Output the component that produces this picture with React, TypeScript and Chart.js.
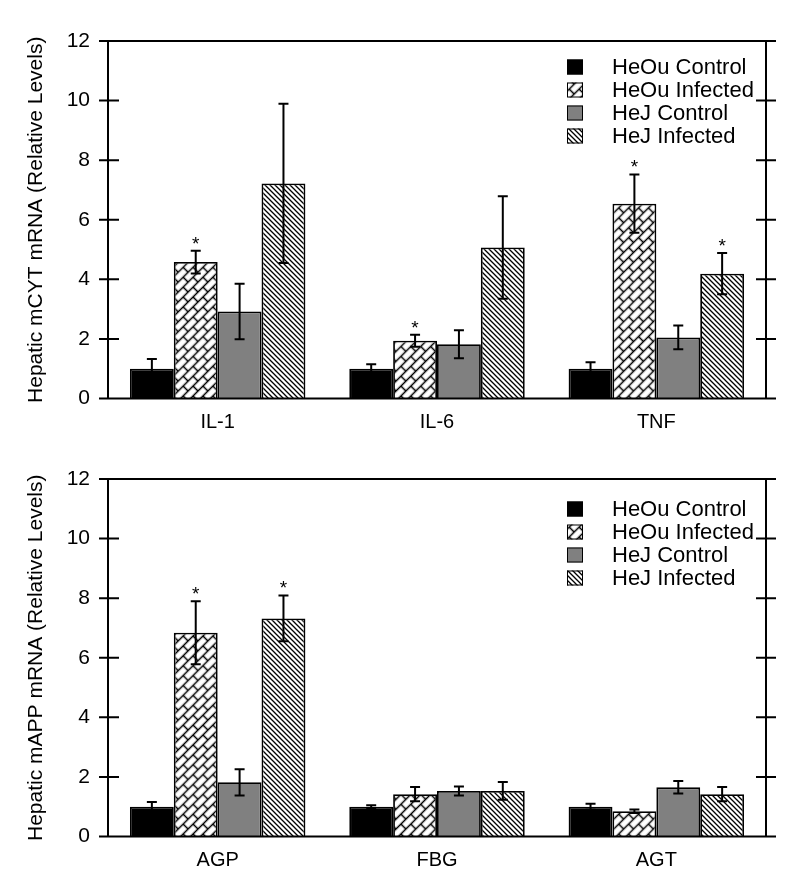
import React, { useEffect, useRef } from 'react';
import { Chart, registerables } from 'chart.js';

Chart.register(...registerables);

const FONT = '"Liberation Sans", Arial, sans-serif';

const seriesNames = ['HeOu Control', 'HeOu Infected', 'HeJ Control', 'HeJ Infected'];
const yTickMin = 0;
const yTickMax = 12;
const yTickStep = 2;

// Top panel: cytokines
const cytCategories = ['IL-1', 'IL-6', 'TNF'];
const cytHeOuControl = [1.0, 1.0, 1.0];
const cytHeOuControlErr = [0.33, 0.15, 0.22];
const cytHeOuInfected = [4.58, 1.94, 6.54];
const cytHeOuInfectedErr = [0.38, 0.2, 0.98];
const cytHeJControl = [2.92, 1.82, 2.05];
const cytHeJControlErr = [0.93, 0.47, 0.4];
const cytHeJInfected = [7.22, 5.07, 4.19];
const cytHeJInfectedErr = [2.67, 1.72, 0.69];
const cytSigHeOuInfected = [true, true, true];
const cytSigHeJInfected = [false, false, true];

// Bottom panel: acute phase proteins
const appCategories = ['AGP', 'FBG', 'AGT'];
const appHeOuControl = [1.0, 1.0, 1.0];
const appHeOuControlErr = [0.16, 0.05, 0.1];
const appHeOuInfected = [6.84, 1.42, 0.85];
const appHeOuInfectedErr = [1.06, 0.24, 0.06];
const appHeJControl = [1.82, 1.53, 1.65];
const appHeJControlErr = [0.44, 0.15, 0.21];
const appHeJInfected = [7.32, 1.53, 1.42];
const appHeJInfectedErr = [0.77, 0.3, 0.24];
const appSigHeOuInfected = [true, false, false];
const appSigHeJInfected = [true, false, false];

const noSig = [false, false, false];

function makeHatch(): CanvasPattern | string {
  const s = 5;
  const c = document.createElement('canvas');
  c.width = s;
  c.height = s;
  const g = c.getContext('2d');
  if (!g) return '#fff';
  g.fillStyle = '#fff';
  g.fillRect(0, 0, s, s);
  g.strokeStyle = '#000';
  g.lineWidth = 1.3;
  g.beginPath();
  for (let k = -1; k <= 1; k++) {
    g.moveTo(-1, -1 + k * s);
    g.lineTo(s + 1, s + 1 + k * s);
  }
  g.stroke();
  return g.createPattern(c, 'repeat') || '#fff';
}

function makeBrick(): CanvasPattern | string {
  const w = 14;
  const h = 14;
  const c = document.createElement('canvas');
  c.width = w;
  c.height = h;
  const g = c.getContext('2d');
  if (!g) return '#fff';
  g.fillStyle = '#fff';
  g.fillRect(0, 0, w, h);
  g.strokeStyle = '#000';
  g.lineWidth = 1.5;
  g.beginPath();
  g.moveTo(0, 3.5);
  g.lineTo(w, 3.5);
  g.moveTo(0, 10.5);
  g.lineTo(w, 10.5);
  g.moveTo(3.5, 3.5);
  g.lineTo(3.5, 10.5);
  g.moveTo(10.5, 10.5);
  g.lineTo(10.5, 14);
  g.moveTo(10.5, 0);
  g.lineTo(10.5, 3.5);
  g.stroke();
  const p = g.createPattern(c, 'repeat');
  if (!p) return '#fff';
  try {
    p.setTransform(new DOMMatrix().rotateSelf(-45));
  } catch (e) {
    /* ignore */
  }
  return p;
}

type PanelProps = {
  categories: string[];
  values: number[][];
  errors: number[][];
  sigs: boolean[][];
  yTitle: string;
  height: number;
  legendOffset: number;
};

function BarPanel(props: PanelProps) {
  const ref = useRef<HTMLCanvasElement | null>(null);
  useEffect(() => {
    const canvas = ref.current;
    if (!canvas) return;
    const fills: (string | CanvasPattern)[] = ['#000000', makeBrick(), '#808080', makeHatch()];
    const plotTop = 41;
    const plotBottom = 398.5;
    const leftW = 108;
    const rightW = 34;

    const overlay = {
      id: 'overlay',
      afterDatasetsDraw(chart: any) {
        const ctx: CanvasRenderingContext2D = chart.ctx;
        const ys = chart.scales.y;
        ctx.save();
        ctx.strokeStyle = '#000';
        ctx.fillStyle = '#000';
        ctx.lineWidth = 2;
        props.values.forEach((vals, i) => {
          const meta = chart.getDatasetMeta(i);
          vals.forEach((v, j) => {
            const el = meta.data[j];
            const x = el.x;
            const e = props.errors[i][j];
            const yt = ys.getPixelForValue(v + e);
            const yb = ys.getPixelForValue(Math.max(0, v - e));
            ctx.beginPath();
            ctx.moveTo(x, yt);
            ctx.lineTo(x, yb);
            ctx.moveTo(x - 5, yt);
            ctx.lineTo(x + 5, yt);
            ctx.moveTo(x - 5, yb);
            ctx.lineTo(x + 5, yb);
            ctx.stroke();
            if (props.sigs[i][j]) {
              ctx.font = '19px ' + FONT;
              ctx.textAlign = 'center';
              ctx.textBaseline = 'alphabetic';
              ctx.fillText('*', x, yt - 1);
            }
          });
        });
        ctx.restore();
      },
      afterDraw(chart: any) {
        const ctx: CanvasRenderingContext2D = chart.ctx;
        const { left, right, top, bottom } = chart.chartArea;
        const ys = chart.scales.y;
        ctx.save();
        ctx.strokeStyle = '#000';
        ctx.lineWidth = 2;
        ctx.beginPath();
        ctx.moveTo(left, top);
        ctx.lineTo(right, top);
        ctx.moveTo(left, top - 1);
        ctx.lineTo(left, bottom + 1);
        ctx.moveTo(right, top - 1);
        ctx.lineTo(right, bottom + 1);
        ctx.moveTo(left, bottom);
        ctx.lineTo(right, bottom);
        ys.ticks.forEach((t: any) => {
          const y = ys.getPixelForValue(t.value);
          ctx.moveTo(left - 9, y);
          ctx.lineTo(left + 11, y);
          ctx.moveTo(right - 10, y);
          ctx.lineTo(right + 10, y);
        });
        ctx.stroke();

        // legend
        ctx.lineWidth = 1;
        ctx.font = '22px ' + FONT;
        ctx.textAlign = 'left';
        ctx.textBaseline = 'middle';
        seriesNames.forEach((name, i) => {
          const cy = top + props.legendOffset + i * 23;
          ctx.fillStyle = fills[i] as any;
          ctx.fillRect(567, cy - 7.5, 16, 15);
          ctx.strokeStyle = '#000';
          ctx.strokeRect(567.5, cy - 7, 15, 14);
          ctx.fillStyle = '#000';
          ctx.fillText(name, 612, cy + 1);
        });
        ctx.restore();
      },
    };

    const chart = new Chart(canvas, {
      type: 'bar',
      data: {
        labels: props.categories,
        datasets: seriesNames.map((name, i) => ({
          label: name,
          data: props.values[i],
          backgroundColor: fills[i] as any,
          borderColor: '#000',
          borderWidth: 1.8,
          categoryPercentage: 0.8,
          barPercentage: 1.0,
          yAxisID: 'y',
        })),
      },
      options: {
        responsive: false,
        animation: false,
        events: [],
        layout: { padding: { top: plotTop, left: 0, right: 0, bottom: 0 } },
        plugins: {
          legend: { display: false },
          tooltip: { enabled: false },
        },
        scales: {
          x: {
            grid: { display: false, drawTicks: false },
            border: { display: false },
            ticks: { color: '#000', font: { size: 20, family: FONT }, padding: 12 },
            afterFit: (s: any) => {
              s.height = props.height - plotBottom;
            },
          },
          y: {
            position: 'left',
            min: yTickMin,
            max: yTickMax,
            grid: { display: false, drawTicks: false },
            border: { display: false },
            ticks: { stepSize: yTickStep, color: '#000', font: { size: 21, family: FONT }, padding: 18 },
            title: {
              display: true,
              text: props.yTitle,
              color: '#000',
              font: { size: 21, family: FONT },
              padding: { top: 24, bottom: 0 },
            },
            afterFit: (s: any) => {
              s.width = leftW;
            },
          },
          yr: {
            position: 'right',
            min: yTickMin,
            max: yTickMax,
            grid: { display: false, drawTicks: false },
            border: { display: false },
            ticks: { display: false, stepSize: yTickStep },
            afterFit: (s: any) => {
              s.width = rightW;
            },
          },
        },
      } as any,
      plugins: [overlay],
    });
    return () => chart.destroy();
  }, []);
  return <canvas ref={ref} width={800} height={props.height} style={{ display: 'block', width: 800, height: props.height }} />;
}

export default function App() {
  return (
    <div style={{ position: 'absolute', left: 0, top: 0, width: 800, height: 888, background: '#fff' }}>
      <BarPanel
        categories={cytCategories}
        values={[cytHeOuControl, cytHeOuInfected, cytHeJControl, cytHeJInfected]}
        errors={[cytHeOuControlErr, cytHeOuInfectedErr, cytHeJControlErr, cytHeJInfectedErr]}
        sigs={[noSig, cytSigHeOuInfected, noSig, cytSigHeJInfected]}
        yTitle="Hepatic mCYT mRNA (Relative Levels)"
        height={438}
        legendOffset={26}
      />
      <BarPanel
        categories={appCategories}
        values={[appHeOuControl, appHeOuInfected, appHeJControl, appHeJInfected]}
        errors={[appHeOuControlErr, appHeOuInfectedErr, appHeJControlErr, appHeJInfectedErr]}
        sigs={[noSig, appSigHeOuInfected, noSig, appSigHeJInfected]}
        yTitle="Hepatic mAPP mRNA (Relative Levels)"
        height={450}
        legendOffset={30}
      />
    </div>
  );
}
